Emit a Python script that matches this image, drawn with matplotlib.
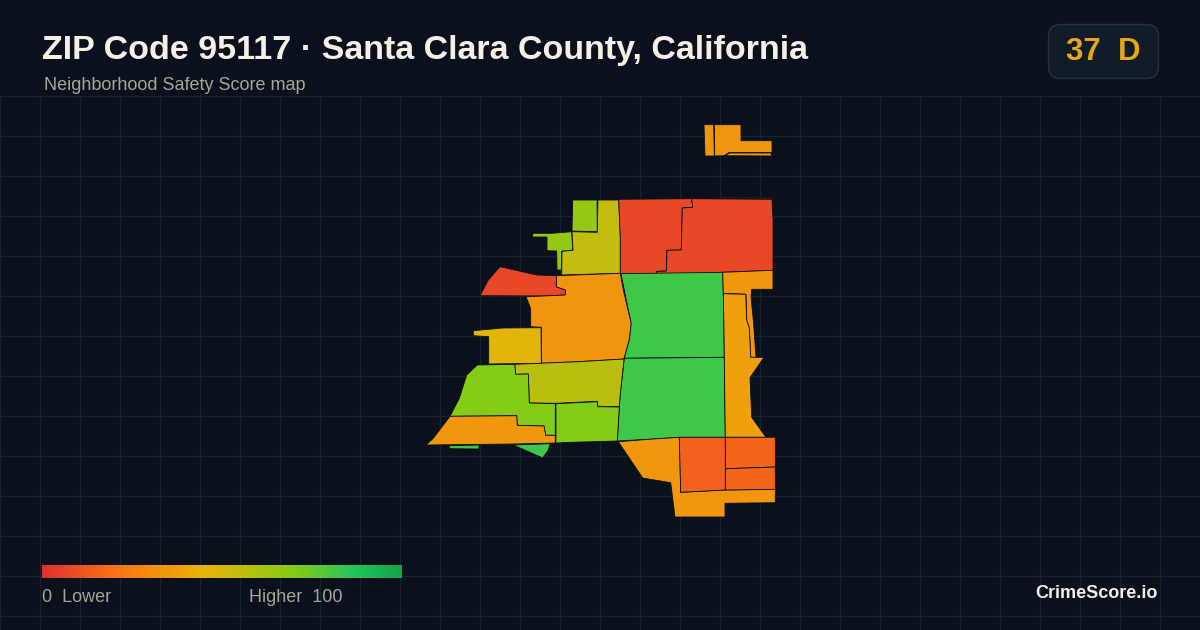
import numpy as np
import matplotlib
matplotlib.use("Agg")
import matplotlib.pyplot as plt
from matplotlib.colors import LinearSegmentedColormap
from matplotlib.patches import FancyBboxPatch, Polygon

title = "ZIP Code 95117 · Santa Clara County, California"
subtitle = "Neighborhood Safety Score map"
score_value = "37"
score_grade = "D"
brand = "CrimeScore.io"
legend_left = "0  Lower"
legend_right = "Higher  100"

# colour scale of the safety score
scale_positions = [0.0, 0.2, 0.45, 0.7, 0.87, 1.0]
scale_colors = ["#e03131", "#f97316", "#eab308", "#84cc16", "#22c55e", "#16a34a"]

# parcel scores, same order as parcel_outlines
parcel_scores = [33, 34, 34, 34, 66, 66, 55, 7, 7, 7, 33, 82, 82, 57, 70, 70,
                 34, 47, 82, 82, 34, 38, 34, 15, 16, 16]

# parcel outlines in pixels
parcel_outlines = [
    [(704, 124.7), (713.7, 124.7), (714.3, 156), (705, 156)],
    [(714.5, 124.7), (741, 124.7), (741, 140.7), (772, 140.7), (772, 152.5), (729, 152.5), (724, 155.7), (714.7, 156)],
    [(725, 155.7), (729.5, 153), (771, 153), (771.5, 156)],
    [(718, 197), (772, 197), (772, 198), (718, 198)],
    [(572.7, 200), (597, 200), (597.3, 231.7), (572, 231)],
    [(532.7, 233.3), (552, 233.3), (571.7, 231.7), (572.7, 250), (561.7, 251.3), (561.3, 270), (557, 270), (556.7, 251), (547, 250.7), (547, 237), (532.7, 237)],
    [(598, 200), (618.7, 200), (620.3, 236.7), (620.3, 273.3), (561.7, 275), (562, 251.3), (573, 250.3), (572, 231.7), (597.3, 232.3)],
    [(618.7, 199.3), (691.7, 198.7), (692.7, 207.3), (682.3, 208), (681.3, 250), (666.7, 250.3), (666.3, 271), (656.7, 271.3), (656.7, 274), (639, 274), (620.3, 273.3), (620.3, 236.7)],
    [(691.7, 198.7), (772, 199.3), (773, 220), (773, 270.3), (722.7, 272.3), (691.7, 274), (656.7, 274), (656.7, 271.7), (666.3, 271), (667, 250.3), (681.3, 250), (682.3, 208), (692.7, 207.3)],
    [(500, 266.7), (536.7, 275), (556.3, 275.7), (556.3, 286.7), (565.3, 290), (565.3, 295), (543.3, 296), (480, 295.7), (488.3, 280)],
    [(556.7, 275.7), (620.3, 273.3), (623.3, 290), (630.3, 319.3), (631.3, 323.3), (629.3, 340), (624, 359), (578.3, 361.7), (541.7, 363.3), (541.3, 327.3), (530.7, 326.7), (530.7, 310), (530, 306.7), (526, 296.7), (543.3, 296), (565.3, 295), (565.3, 290), (556.3, 286.7)],
    [(621, 273.7), (722.7, 272.3), (723.3, 293.3), (724, 330), (724.3, 357.3), (624.3, 358.3), (629.3, 340), (631.3, 323.3), (628.3, 310)],
    [(624.3, 358.3), (724.3, 357.3), (725.3, 437.3), (679.3, 437.3), (653.3, 439), (617.3, 441), (620, 396.7)],
    [(514.7, 364.3), (578.3, 361.7), (624, 359), (620, 396.7), (619.3, 406.7), (597.7, 406.3), (597.3, 401.3), (556.7, 403.3), (529.3, 403), (528.3, 374), (515.7, 374.3)],
    [(556, 403.7), (597.3, 401.7), (597.7, 406.7), (619.3, 407), (617.3, 441), (571.3, 442.3), (556, 443)],
    [(477.3, 365), (514.7, 364.3), (515.7, 374.3), (528.3, 374), (529.3, 403), (555.3, 403.7), (555.3, 435.3), (545.7, 435.3), (544, 426), (517.3, 425.3), (516.7, 415.7), (485, 416), (450, 416.3), (459.3, 398.3), (466.7, 375)],
    [(450, 416.3), (485, 416), (516.7, 415.7), (517.3, 425.3), (544, 426), (545.7, 435.3), (555.3, 435.3), (555.3, 443), (513.3, 444), (426, 445), (433.3, 438.3)],
    [(473.3, 330.7), (502.7, 328), (541, 327.7), (541.3, 363.3), (510, 363.7), (488.7, 364), (488.7, 336.7), (473.3, 335.7)],
    [(449, 445.7), (479, 445), (479, 449), (450, 448.7)],
    [(513.3, 445), (550.3, 443.7), (548.3, 450), (542.7, 458)],
    [(722.7, 272.3), (773, 270.3), (773, 289.3), (751.7, 289.3), (751, 296.7), (753.3, 320), (756, 357.3), (750.7, 357.3), (749.3, 328.3), (746.7, 320), (746, 294.3), (723.3, 293.3)],
    [(723.3, 293.7), (745.7, 294.3), (746.7, 320), (749.3, 328.3), (750.7, 357.3), (764, 357.3), (750, 377.7), (751.7, 417.3), (766, 437.3), (725.3, 437.3), (724.3, 357.3), (724, 330)],
    [(618.3, 441.7), (653.3, 439), (679.3, 437.3), (680.7, 492.3), (725.3, 490), (775.3, 489.3), (775.3, 502.7), (725, 503.3), (725, 517), (675, 517), (670.7, 482.7), (642.7, 478)],
    [(679.3, 437.3), (725.3, 437.3), (725.3, 490), (680.7, 492.3)],
    [(725.3, 437.3), (775.3, 437.3), (775.3, 467), (725.7, 468.7)],
    [(725.7, 468.7), (775.3, 467), (775.3, 489.3), (725.3, 490)],
]

BG = "#0a111c"
GRID = "#152430"
EDGE = "#0b1018"

cmap = LinearSegmentedColormap.from_list("safety", list(zip(scale_positions, scale_colors)))

plt.rcParams["font.family"] = ["Liberation Sans", "DejaVu Sans"]

fig = plt.figure(figsize=(12, 6.3), dpi=100, facecolor=BG)
ax = fig.add_axes([0, 0, 1, 1])
ax.set_xlim(0, 1200)
ax.set_ylim(630, 0)
ax.axis("off")

# background grid, only below the header
ax.hlines(np.arange(96, 630, 40), 0, 1200, color=GRID, lw=0.9, zorder=1)
ax.vlines(np.arange(0, 1200, 40), 96, 630, color=GRID, lw=0.9, zorder=1)

for score, outline in zip(parcel_scores, parcel_outlines):
    ax.add_patch(Polygon(outline, closed=True, facecolor=cmap(score / 100),
                         edgecolor=EDGE, lw=0.6, zorder=2))

ax.text(42, 50.5, title, color="#f5efe6", fontsize=24.5, fontweight="bold", va="center", ha="left")
ax.text(44, 85.5, subtitle, color="#a8a698", fontsize=13, va="center", ha="left")

# score badge
ax.add_patch(FancyBboxPatch((1048.5, 24.5), 110, 54, boxstyle="round,pad=0,rounding_size=12",
                            facecolor="#111c28", edgecolor="#26323f", lw=1, zorder=2))
ax.text(1103, 52, f"{score_value}  {score_grade}", color="#e6a817", fontsize=22.5,
        fontweight="bold", va="center", ha="center", zorder=3)

# legend bar
gradient = np.linspace(0, 100, 360).reshape(1, -1)
ax.imshow(gradient, cmap=cmap, vmin=0, vmax=100, extent=(42, 402, 578, 565), aspect="auto", zorder=2)
ax.set_xlim(0, 1200)
ax.set_ylim(630, 0)
ax.text(42, 597, legend_left, color="#a8a698", fontsize=13, va="center", ha="left")
ax.text(249, 597, legend_right, color="#a8a698", fontsize=13, va="center", ha="left")

ax.text(1158, 594, brand, color="#f5efe6", fontsize=13, fontweight="bold", va="center", ha="right")

fig.savefig("out.png", dpi=100, facecolor=BG)
